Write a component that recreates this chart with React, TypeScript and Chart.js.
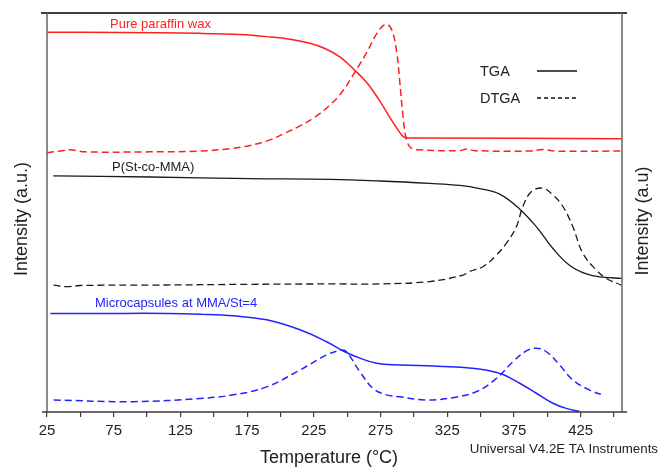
import React, { useEffect, useRef } from 'react';
import { Chart, registerables } from 'chart.js';

Chart.register(...registerables);

// ---------- axis / tick data ----------
const X_MIN = 25;
const X_MAX = 456;
const Y_MIN = 0;
const Y_MAX = 100;
const xTickValues = [25, 50, 75, 100, 125, 150, 175, 200, 225, 250, 275, 300, 325, 350, 375, 400, 425, 450];
const xTickLabels = ['25', '75', '125', '175', '225', '275', '325', '375', '425'];

// ---------- series (temperature °C, intensity a.u.) ----------
const paraffinTgaT = [25, 79.9, 139.7, 169.7, 192.1, 207.1, 222.0, 233.3, 244.5, 255.8, 264.8, 274.5, 284.3, 290.2, 293.2, 298.5, 455.6];
const paraffinTgaV = [95.2, 95.1, 94.9, 94.6, 94.0, 93.4, 92.4, 91.1, 89.0, 85.6, 82.5, 77.9, 72.6, 69.7, 68.8, 68.7, 68.5];

const paraffinDtgaT = [25, 35, 42.4, 53.7, 102.3, 139.7, 162.2, 177.2, 192.1, 203.4, 214.6, 225.8, 237.0, 246.8, 255.8, 264.8, 272.3, 279.0, 283.5, 287.2, 289.5, 291.9, 294.5, 298.2, 304.4, 334.4, 339.6, 345.6, 386.8, 396.5, 405.5, 455.6];
const paraffinDtgaV = [65.0, 65.4, 65.7, 65.2, 65.2, 65.4, 66.0, 66.8, 68.2, 69.9, 71.7, 73.9, 76.9, 80.5, 85.2, 90.2, 94.9, 97.2, 95.7, 90.0, 82.5, 74.0, 68.2, 66.1, 65.7, 65.5, 65.9, 65.5, 65.4, 65.8, 65.4, 65.4];

const copolymerTgaT = [29.7, 102.3, 177.2, 237.1, 274.5, 311.9, 334.4, 349.3, 364.3, 379.2, 391.9, 403.9, 416.6, 429.3, 441.3, 455.6];
const copolymerTgaV = [59.2, 58.9, 58.5, 58.3, 57.9, 57.3, 56.8, 56.0, 54.6, 50.9, 46.4, 41.1, 36.8, 34.6, 33.8, 33.5];

const copolymerDtgaT = [29.9, 40.0, 49.9, 102.3, 177.2, 237.0, 274.5, 311.9, 336.8, 341.7, 351.8, 361.8, 369.3, 376.8, 381.7, 388.0, 396.7, 404.2, 411.7, 419.2, 426.6, 436.7, 444.2, 455.4];
const copolymerDtgaV = [31.8, 31.4, 31.7, 31.8, 32.0, 32.1, 32.1, 32.7, 34.3, 35.2, 36.4, 39.3, 42.3, 46.4, 51.5, 55.2, 56.1, 54.4, 51.5, 46.4, 39.8, 35.6, 33.5, 31.8];

const capsuleTgaT = [27.5, 64.9, 114.8, 139.7, 164.7, 189.7, 214.6, 234.6, 247.0, 259.5, 272.0, 289.5, 314.4, 339.4, 354.3, 366.8, 379.3, 391.8, 404.2, 414.2, 424.2];
const capsuleTgaV = [24.7, 24.7, 24.7, 24.5, 24.1, 23.1, 20.6, 17.6, 15.3, 13.5, 12.2, 11.8, 11.5, 11.1, 10.5, 9.4, 7.2, 4.7, 2.2, 0.9, 0.1];

const capsuleDtgaT = [30, 89.8, 139.7, 164.7, 189.7, 214.6, 234.6, 245.8, 249.5, 259.5, 269.5, 279.5, 289.5, 309.4, 329.3, 346.9, 361.8, 374.3, 384.3, 391.8, 399.3, 409.2, 419.2, 431.7, 442.9];
const capsuleDtgaV = [3.0, 2.6, 3.4, 4.3, 6.3, 10.5, 14.3, 15.5, 15.1, 10.1, 5.9, 4.3, 3.8, 3.0, 3.6, 5.1, 8.4, 12.6, 15.3, 16.0, 15.1, 11.8, 8.0, 5.5, 4.1];

const seriesNames = ['Pure paraffin wax', 'P(St-co-MMA)', 'Microcapsules at MMA/St=4'];
const legendNames = ['TGA', 'DTGA'];
const xTitle = 'Temperature (°C)';
const yTitleLeft = 'Intensity (a.u.)';
const yTitleRight = 'Intensity (a.u)';
const footNote = 'Universal V4.2E TA Instruments';

const RED = '#ff1f1f';
const BLACK = '#1a1a1a';
const BLUE = '#2323ff';
const FONT = "'Liberation Sans', Arial, sans-serif";

const pts = (t: number[], v: number[]) => t.map((x, i) => ({ x, y: v[i] }));

const decorPlugin = {
  id: 'decor',
  afterDraw(chart: any) {
    const { ctx, chartArea } = chart;
    const { left, right, top, bottom } = chartArea;
    ctx.save();
    // frame lines
    ctx.lineCap = 'butt';
    ctx.strokeStyle = '#000';
    ctx.lineWidth = 1.5;
    ctx.beginPath();
    ctx.moveTo(left - 6, top);
    ctx.lineTo(right + 5, top);
    ctx.stroke();
    ctx.strokeStyle = '#6e6e6e';
    ctx.lineWidth = 1.6;
    ctx.beginPath();
    ctx.moveTo(left, top);
    ctx.lineTo(left, bottom);
    ctx.moveTo(right, top);
    ctx.lineTo(right, bottom);
    ctx.stroke();
    ctx.strokeStyle = '#3a3a3a';
    ctx.lineWidth = 1.4;
    ctx.beginPath();
    ctx.moveTo(left - 5, bottom);
    ctx.lineTo(right + 5, bottom);
    ctx.stroke();

    // series labels
    ctx.textBaseline = 'middle';
    ctx.textAlign = 'left';
    ctx.font = `13px ${FONT}`;
    ctx.fillStyle = RED;
    ctx.fillText(seriesNames[0], 110, 24);
    ctx.fillStyle = BLACK;
    ctx.fillText(seriesNames[1], 112, 167);
    ctx.fillStyle = BLUE;
    ctx.fillText(seriesNames[2], 95, 303);

    // legend
    ctx.font = `14.5px ${FONT}`;
    ctx.fillStyle = '#222';
    ctx.fillText(legendNames[0], 480, 72);
    ctx.fillText(legendNames[1], 480, 98.5);
    ctx.strokeStyle = '#111';
    ctx.lineWidth = 1.4;
    ctx.beginPath();
    ctx.moveTo(537, 71);
    ctx.lineTo(577, 71);
    ctx.stroke();
    ctx.setLineDash([4, 3]);
    ctx.beginPath();
    ctx.moveTo(537, 98);
    ctx.lineTo(577, 98);
    ctx.stroke();
    ctx.setLineDash([]);

    // axis titles
    ctx.fillStyle = '#222';
    ctx.font = `18px ${FONT}`;
    ctx.textAlign = 'center';
    ctx.save();
    ctx.translate(22, 219);
    ctx.rotate(-Math.PI / 2);
    ctx.fillText(yTitleLeft, 0, 0);
    ctx.restore();
    ctx.save();
    ctx.translate(643, 221);
    ctx.rotate(-Math.PI / 2);
    ctx.fillText(yTitleRight, 0, 0);
    ctx.restore();
    ctx.fillText(xTitle, 329, 458);

    // instrument note
    ctx.textAlign = 'right';
    ctx.font = `13.3px ${FONT}`;
    ctx.fillText(footNote, 658, 449);
    ctx.restore();
  },
};

export default function App() {
  const ref = useRef<HTMLCanvasElement | null>(null);

  useEffect(() => {
    if (!ref.current) return;
    const common = { pointRadius: 0, borderWidth: 1.5, tension: 0.4, fill: false };
    const chart = new Chart(ref.current, {
      type: 'line',
      data: {
        datasets: [
          { ...common, label: 'Pure paraffin wax TGA', data: pts(paraffinTgaT, paraffinTgaV), borderColor: RED },
          { ...common, label: 'Pure paraffin wax DTGA', data: pts(paraffinDtgaT, paraffinDtgaV), borderColor: RED, borderDash: [7, 4] },
          { ...common, label: 'P(St-co-MMA) TGA', data: pts(copolymerTgaT, copolymerTgaV), borderColor: BLACK, borderWidth: 1.3 },
          { ...common, label: 'P(St-co-MMA) DTGA', data: pts(copolymerDtgaT, copolymerDtgaV), borderColor: BLACK, borderWidth: 1.3, borderDash: [7, 4] },
          { ...common, label: 'Microcapsules TGA', data: pts(capsuleTgaT, capsuleTgaV), borderColor: BLUE },
          { ...common, label: 'Microcapsules DTGA', data: pts(capsuleDtgaT, capsuleDtgaV), borderColor: BLUE, borderDash: [7, 4] },
        ],
      },
      options: {
        animation: false,
        responsive: false,
        maintainAspectRatio: false,
        layout: { padding: { top: 13, left: 0, right: 0, bottom: 0 } },
        plugins: { legend: { display: false }, tooltip: { enabled: false } },
        scales: {
          x: {
            type: 'linear',
            position: 'bottom',
            min: X_MIN,
            max: X_MAX,
            afterBuildTicks: (s: any) => {
              s.ticks = xTickValues.map((v) => ({ value: v }));
            },
            afterFit: (s: any) => {
              s.height = 55;
            },
            ticks: {
              autoSkip: false,
              maxRotation: 0,
              padding: 5,
              color: '#222',
              font: { family: FONT, size: 15 },
              callback: (v: any) => (xTickLabels.includes(String(v)) ? String(v) : ''),
            },
            grid: { display: true, drawOnChartArea: false, drawTicks: true, tickLength: 5, color: '#3a3a3a', lineWidth: 1.2 },
            border: { display: false },
            title: { display: false },
          },
          y: {
            type: 'linear',
            position: 'left',
            min: Y_MIN,
            max: Y_MAX,
            afterFit: (s: any) => {
              s.width = 47;
            },
            ticks: { display: false },
            grid: { display: false },
            border: { display: false },
          },
          y2: {
            type: 'linear',
            position: 'right',
            min: Y_MIN,
            max: Y_MAX,
            afterFit: (s: any) => {
              s.width = 37;
            },
            ticks: { display: false },
            grid: { display: false },
            border: { display: false },
          },
        },
      },
      plugins: [decorPlugin],
    });
    return () => chart.destroy();
  }, []);

  return (
    <div style={{ position: 'absolute', left: 0, top: 0, width: 659, height: 467, background: '#fff' }}>
      <canvas ref={ref} width={659} height={467} style={{ display: 'block' }} />
    </div>
  );
}
